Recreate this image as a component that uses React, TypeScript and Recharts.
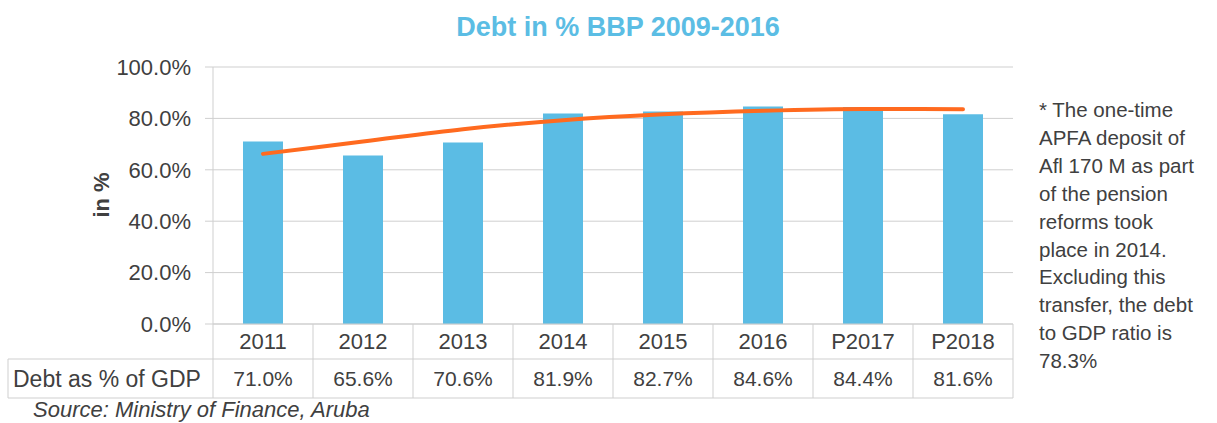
import React from "react";
import { ComposedChart, Bar, Line, XAxis, YAxis, CartesianGrid } from "recharts";

// values
const categories = ["2011", "2012", "2013", "2014", "2015", "2016", "P2017", "P2018"];
const debtPct = [71.0, 65.6, 70.6, 81.9, 82.7, 84.6, 84.4, 81.6];
const trendPct = [66.2, 71.0, 75.8, 79.3, 81.6, 83.0, 83.7, 83.6];
const yTicks = [0, 20, 40, 60, 80, 100];
const rowLabel = "Debt as % of GDP";
const noteLines = [
  "* The one-time",
  "APFA deposit of",
  "Afl 170 M as part",
  "of the pension",
  "reforms took",
  "place in 2014.",
  "Excluding this",
  "transfer, the debt",
  "to GDP ratio is",
  "78.3%",
];

const data = categories.map((year, i) => ({ year, debt: debtPct[i], trend: trendPct[i] }));

const GRID = "#cfcfcf";
const TEXT = "#404040";
const BAND = 100;
const TABLE_TOP = 324;
const ROW_SPLIT = 359;
const TABLE_BOTTOM = 398;
const TABLE_LEFT = 8;

const TableTick = (props: any) => {
  const { x, payload } = props;
  const i = payload.index;
  const half = BAND / 2;
  return (
    <g>
      <text x={x} y={(TABLE_TOP + ROW_SPLIT) / 2} dy="0.35em" textAnchor="middle" fill={TEXT} fontSize={22}>
        {payload.value}
      </text>
      <text x={x} y={(ROW_SPLIT + TABLE_BOTTOM) / 2} dy="0.35em" textAnchor="middle" fill={TEXT} fontSize={21}>
        {debtPct[i].toFixed(1)}%
      </text>
      <line x1={x - half} x2={x + half} y1={ROW_SPLIT} y2={ROW_SPLIT} stroke={GRID} />
      <line x1={x - half} x2={x + half} y1={TABLE_BOTTOM} y2={TABLE_BOTTOM} stroke={GRID} />
      <line x1={x + half} x2={x + half} y1={TABLE_TOP} y2={TABLE_BOTTOM} stroke={GRID} />
      {i === 0 && (
        <g>
          <line x1={x - half} x2={x - half} y1={TABLE_TOP} y2={TABLE_BOTTOM} stroke={GRID} />
          <line x1={TABLE_LEFT} x2={x - half} y1={ROW_SPLIT} y2={ROW_SPLIT} stroke={GRID} />
          <line x1={TABLE_LEFT} x2={x - half} y1={TABLE_BOTTOM} y2={TABLE_BOTTOM} stroke={GRID} />
          <line x1={TABLE_LEFT} x2={TABLE_LEFT} y1={ROW_SPLIT} y2={TABLE_BOTTOM} stroke={GRID} />
          <text x={TABLE_LEFT + 5} y={(ROW_SPLIT + TABLE_BOTTOM) / 2} dy="0.35em" fill={TEXT} fontSize={23}>
            {rowLabel}
          </text>
        </g>
      )}
    </g>
  );
};

export default function App() {
  return (
    <div
      style={{
        position: "absolute",
        left: 0,
        top: 0,
        width: 1217,
        height: 423,
        overflow: "hidden",
        background: "#fff",
        fontFamily: "'Liberation Sans', Arial, Helvetica, sans-serif",
        color: TEXT,
      }}
    >
      <div
        style={{
          position: "absolute",
          left: 318,
          top: 12,
          width: 600,
          textAlign: "center",
          fontSize: 27,
          lineHeight: "30px",
          fontWeight: "bold",
          color: "#5bbde4",
        }}
      >
        Debt in % BBP 2009-2016
      </div>

      <ComposedChart
        width={1217}
        height={423}
        data={data}
        margin={{ top: 67, right: 204, left: 113, bottom: 25 }}
      >
        <CartesianGrid vertical={false} stroke={GRID} />
        <XAxis
          dataKey="year"
          height={74}
          interval={0}
          tickLine={false}
          axisLine={{ stroke: GRID }}
          tick={<TableTick />}
        />
        <YAxis
          domain={[0, 100]}
          ticks={yTicks}
          width={100}
          tickSize={8}
          tickMargin={14}
          tickFormatter={(v: number) => v.toFixed(1) + "%"}
          axisLine={{ stroke: GRID }}
          tickLine={{ stroke: GRID }}
          tick={{ fill: TEXT, fontSize: 22 }}
        />
        <Bar dataKey="debt" fill="#5bbce4" barSize={40} isAnimationActive={false} />
        <Line
          dataKey="trend"
          type="monotone"
          stroke="#ff6a1f"
          strokeWidth={4}
          strokeLinecap="round"
          dot={false}
          activeDot={false}
          isAnimationActive={false}
        />
      </ComposedChart>

      <div
        style={{
          position: "absolute",
          left: 102,
          top: 195,
          transform: "translate(-50%, -50%) rotate(-90deg)",
          fontSize: 22,
          fontWeight: "bold",
          whiteSpace: "nowrap",
        }}
      >
        in %
      </div>

      <div style={{ position: "absolute", left: 1039, top: 96, fontSize: 20.5, lineHeight: "27.9px" }}>
        {noteLines.map((l) => (
          <div key={l}>{l}</div>
        ))}
      </div>

      <div
        style={{
          position: "absolute",
          left: 33,
          top: 398,
          fontSize: 22,
          lineHeight: "24px",
          fontStyle: "italic",
          whiteSpace: "nowrap",
        }}
      >
        Source: Ministry of Finance, Aruba
      </div>
    </div>
  );
}
